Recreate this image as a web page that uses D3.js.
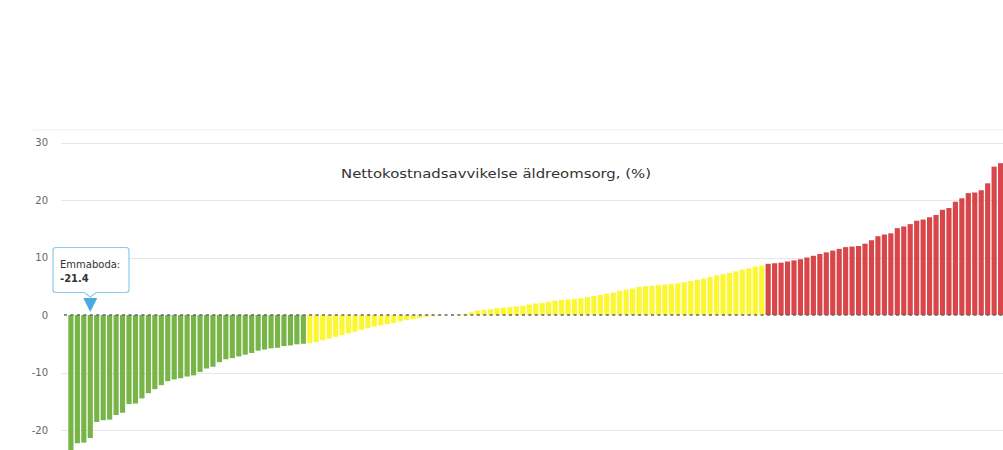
<!DOCTYPE html>
<html lang="sv">
<head>
<meta charset="utf-8">
<title>Nettokostnadsavvikelse äldreomsorg</title>
<script src="https://d3js.org/d3.v7.min.js"></script>
<style>
  body { margin: 0; background: #fff; }
  svg { display: block; }
</style>
</head>
<body>
<svg width="1003" height="450"></svg>
<script>
// values sorted ascending, one bar per municipality
const greenValues = [-24.0, -22.3, -22.2, -21.4, -18.6, -18.3, -18.2, -17.4, -17.0, -15.5,
  -15.4, -14.5, -13.6, -12.9, -12.2, -11.5, -11.2, -11.0, -10.7, -10.5,
  -9.9, -9.3, -9.0, -8.2, -7.7, -7.5, -7.2, -6.9, -6.6, -6.2,
  -6.0, -5.8, -5.7, -5.4, -5.3, -5.1, -5.0];
const yellowValues = [-4.9, -4.7, -4.4, -4.1, -3.8, -3.5, -3.2, -2.9, -2.6, -2.3,
  -2.0, -1.8, -1.6, -1.4, -1.1, -0.9, -0.7, -0.5, -0.3, -0.2,
  -0.1, 0.0, 0.0, 0.1, 0.2, 0.5, 0.8, 0.9, 1.0, 1.2,
  1.3, 1.4, 1.5, 1.6, 1.8, 2.0, 2.1, 2.3, 2.5, 2.6,
  2.7, 2.8, 2.9, 3.1, 3.3, 3.5, 3.7, 3.9, 4.2, 4.4,
  4.6, 4.9, 5.0, 5.1, 5.2, 5.3, 5.4, 5.5, 5.7, 5.9,
  6.1, 6.3, 6.6, 6.9, 7.1, 7.3, 7.6, 7.9, 8.1, 8.4, 8.6];
const redValues = [8.9, 9.0, 9.1, 9.3, 9.5, 9.7, 10.0, 10.3, 10.6, 10.9,
  11.2, 11.5, 11.8, 11.9, 12.0, 12.4, 13.0, 13.7, 14.0, 14.2,
  15.1, 15.4, 15.8, 16.4, 16.6, 17.0, 17.4, 18.3, 18.6, 19.7,
  20.3, 21.2, 21.3, 21.7, 22.9, 25.8, 26.4];
const yTicks = [-20, -10, 0, 10, 20, 30];
const title = "Nettokostnadsavvikelse äldreomsorg, (%)";
const tooltipName = "Emmaboda";
const tooltipValue = -21.4;
const tooltipIndex = 3;

const colors = { green: "#78b548", yellow: "#fdf732", red: "#d8464a" };

const bars = [].concat(
  greenValues.map(v => ({ v, c: colors.green })),
  yellowValues.map(v => ({ v, c: colors.yellow })),
  redValues.map(v => ({ v, c: colors.red }))
);

const svg = d3.select("svg");

const x = d3.scaleBand()
  .domain(d3.range(bars.length))
  .range([68, 1003.5])
  .paddingInner(0.2)
  .paddingOuter(0.05);

const y = d3.scaleLinear()
  .domain([-24, 30])
  .range([453, 142.5]);

// faint top band
svg.append("line")
  .attr("x1", 33).attr("x2", 1003)
  .attr("y1", 130).attr("y2", 130)
  .attr("stroke", "#f6f6f6").attr("stroke-width", 2);

// grid
svg.append("g")
  .selectAll("line")
  .data(yTicks.filter(d => d !== 0))
  .join("line")
  .attr("x1", 61).attr("x2", 1003)
  .attr("y1", d => Math.round(y(d)) + 0.5)
  .attr("y2", d => Math.round(y(d)) + 0.5)
  .attr("stroke", "#e6e6e6");

// y labels
svg.append("g")
  .selectAll("text")
  .data(yTicks)
  .join("text")
  .attr("x", 48)
  .attr("y", d => y(d) + 3.5)
  .attr("text-anchor", "end")
  .attr("font-family", "DejaVu Sans, sans-serif")
  .attr("font-size", 10)
  .attr("fill", "#666")
  .text(d => d);

// title
svg.append("text")
  .attr("x", 496)
  .attr("y", 178)
  .attr("text-anchor", "middle")
  .attr("font-family", "DejaVu Sans, sans-serif")
  .attr("font-size", 13)
  .attr("fill", "#333")
  .attr("textLength", 310)
  .attr("lengthAdjust", "spacingAndGlyphs")
  .text(title);

// bars
svg.append("g")
  .selectAll("rect")
  .data(bars)
  .join("rect")
  .attr("x", (d, i) => x(i))
  .attr("width", x.bandwidth())
  .attr("y", d => y(Math.max(0, d.v)))
  .attr("height", d => Math.abs(y(d.v) - y(0)))
  .attr("fill", d => d.c);

// dashed zero line
svg.append("line")
  .attr("x1", 64).attr("x2", 1003)
  .attr("y1", y(0)).attr("y2", y(0))
  .attr("stroke", "#666")
  .attr("stroke-width", 1.3)
  .attr("stroke-dasharray", "3,3.45");

// tooltip
const tx = x(tooltipIndex) + x.bandwidth() / 2;
const tip = svg.append("g");
tip.append("path")
  .attr("d", `M${tx - 7},298 L${tx + 7},298 L${tx},312 Z`)
  .attr("fill", "#4aa9df");
tip.append("path")
  .attr("d", `M56,247.5 H126 Q129,247.5 129,250.5 V289.5 Q129,292.5 126,292.5 H${tx + 6} L${tx},297 L${tx - 6},292.5 H56 Q53,292.5 53,289.5 V250.5 Q53,247.5 56,247.5 Z`)
  .attr("fill", "#fff")
  .attr("stroke", "#8ccbec")
  .attr("stroke-width", 1.2);
tip.append("text")
  .attr("x", 60).attr("y", 268)
  .attr("font-family", "DejaVu Sans, sans-serif")
  .attr("font-size", 10)
  .attr("fill", "#333")
  .text(tooltipName + ":");
tip.append("text")
  .attr("x", 60).attr("y", 282)
  .attr("font-family", "DejaVu Sans, sans-serif")
  .attr("font-size", 10)
  .attr("font-weight", "bold")
  .attr("fill", "#333")
  .text(tooltipValue);
</script>
</body>
</html>
